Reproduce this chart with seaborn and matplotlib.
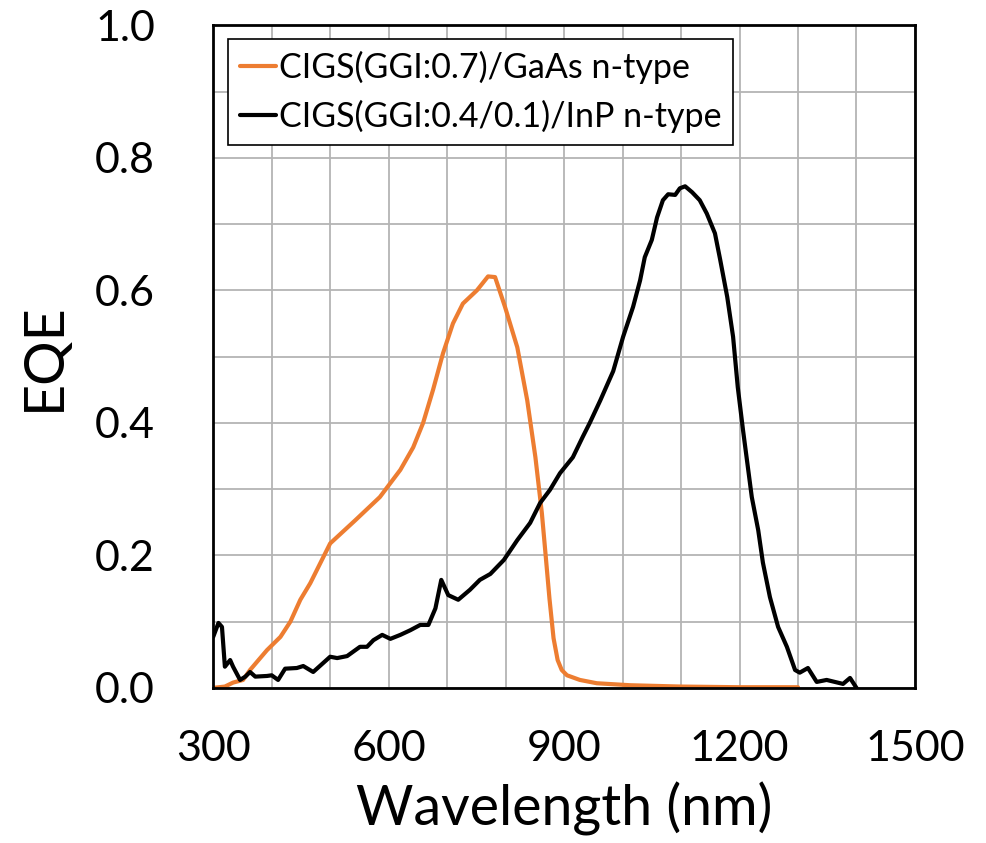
import numpy as np
import pandas as pd
import matplotlib.pyplot as plt
import seaborn as sns
from matplotlib.ticker import MultipleLocator

# 數據
wl_gaas = [300, 320, 334, 351, 363, 392, 415, 432, 449, 466, 483, 500, 543, 585, 620,
           642, 659, 676, 693, 710, 727, 751, 770, 782, 799, 820, 837, 851, 862, 868,
           875, 882, 889, 896, 905, 927, 956, 1013, 1100, 1200, 1300]
eqe_gaas = [0.0, 0.002, 0.008, 0.012, 0.027, 0.057, 0.077, 0.10, 0.133, 0.158, 0.188, 0.218, 0.253, 0.288, 0.329,
            0.363, 0.40, 0.45, 0.505, 0.55, 0.58, 0.60, 0.621, 0.62, 0.575, 0.514, 0.434, 0.348, 0.264, 0.205,
            0.135, 0.075, 0.042, 0.027, 0.019, 0.012, 0.007, 0.004, 0.002, 0.001, 0.001]

wl_inp = [300, 309, 315, 320, 329, 334, 346, 355, 363, 372, 392, 400, 411, 423, 443, 454, 471,
          500, 512, 529, 551, 563, 574, 589, 603, 620, 637, 654, 668, 680, 690, 702, 719, 739, 756,
          774, 786, 797, 820, 842, 859, 876, 893, 915, 932, 944, 962, 984, 1001, 1018, 1030, 1038,
          1050, 1059, 1069, 1078, 1090, 1098, 1107, 1119, 1132, 1144, 1158, 1167, 1179, 1189, 1197,
          1206, 1221, 1232, 1240, 1252, 1266, 1281, 1295, 1303, 1317, 1332, 1349, 1377, 1389, 1400]
eqe_inp = [0.077, 0.098, 0.092, 0.032, 0.042, 0.032, 0.012, 0.017, 0.024, 0.017, 0.018, 0.019, 0.012, 0.029, 0.03, 0.033, 0.024,
           0.047, 0.045, 0.048, 0.062, 0.062, 0.072, 0.08, 0.074, 0.08, 0.087, 0.095, 0.095, 0.12, 0.163, 0.14, 0.133, 0.148, 0.163,
           0.172, 0.183, 0.193, 0.223, 0.249, 0.279, 0.299, 0.324, 0.348, 0.379, 0.40, 0.434, 0.478, 0.53, 0.575, 0.615, 0.65,
           0.676, 0.71, 0.736, 0.745, 0.744, 0.754, 0.757, 0.748, 0.736, 0.716, 0.686, 0.646, 0.59, 0.53, 0.454,
           0.389, 0.288, 0.238, 0.189, 0.137, 0.092, 0.062, 0.027, 0.023, 0.03, 0.009, 0.012, 0.006, 0.015, 0.0]

labels = ['CIGS(GGI:0.7)/GaAs n-type', 'CIGS(GGI:0.4/0.1)/InP n-type']
colors = ['#ED7D31', '#000000']

sns.set_style('white')
plt.rcParams['font.family'] = ['Lato', 'DejaVu Sans']
plt.rcParams['text.color'] = 'black'
plt.rcParams['axes.labelcolor'] = 'black'
plt.rcParams['xtick.color'] = 'black'
plt.rcParams['ytick.color'] = 'black'

fig = plt.figure(figsize=(9.87, 8.43), dpi=100)
ax = fig.add_axes([0.216, 0.184, 0.711, 0.786])

df1 = pd.DataFrame({'wl': wl_gaas, 'eqe': eqe_gaas})
df2 = pd.DataFrame({'wl': wl_inp, 'eqe': eqe_inp})
sns.lineplot(data=df1, x='wl', y='eqe', ax=ax, color=colors[0], lw=3.0, label=labels[0], sort=False)
sns.lineplot(data=df2, x='wl', y='eqe', ax=ax, color=colors[1], lw=3.0, label=labels[1], sort=False)

ax.set_xlim(300, 1500)
ax.set_ylim(0, 1.0)
ax.xaxis.set_major_locator(MultipleLocator(300))
ax.xaxis.set_minor_locator(MultipleLocator(100))
ax.yaxis.set_major_locator(MultipleLocator(0.2))
ax.yaxis.set_minor_locator(MultipleLocator(0.1))
ax.yaxis.set_major_formatter(plt.FormatStrFormatter('%.1f'))
ax.grid(True, which='both', color='#b4b4b4', lw=1.3)
ax.set_axisbelow(True)
ax.tick_params(axis='x', which='major', direction='in', length=7, width=1.2,
               labelsize=31, pad=30)
ax.tick_params(axis='y', which='major', direction='in', length=7, width=1.2,
               labelsize=31, pad=42)
ax.tick_params(axis='both', which='minor', length=0)
for s in ax.spines.values():
    s.set_color('black')
    s.set_linewidth(2)

ax.set_xlabel('Wavelength (nm)', fontsize=40, labelpad=10)
ax.set_ylabel('EQE', fontsize=40, labelpad=18)

leg = ax.legend(loc='upper left', bbox_to_anchor=(0.021, 0.979), fontsize=24.5,
                frameon=True, fancybox=False, handlelength=1.05, handletextpad=0.1,
                borderpad=0.35, labelspacing=0.45, borderaxespad=0)
leg.get_frame().set_edgecolor('black')
leg.get_frame().set_linewidth(1.2)
leg.get_frame().set_alpha(1)
for h in leg.get_lines():
    h.set_linewidth(3.0)

fig.savefig('out.png', dpi=100)
